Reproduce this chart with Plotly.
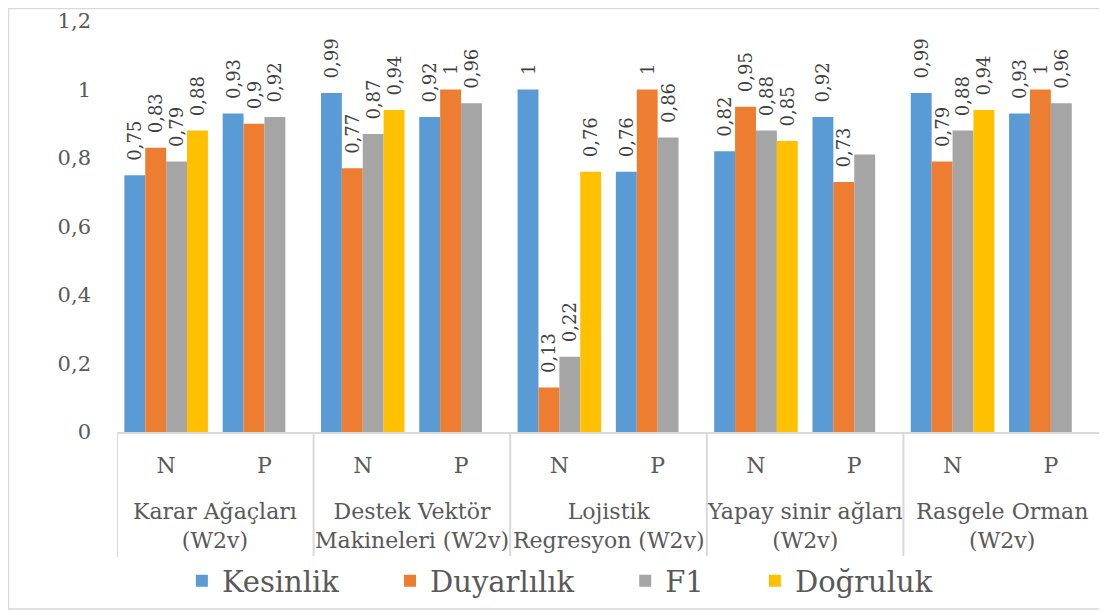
import plotly.graph_objects as go

groups = ["Karar Ağaçları<br>(W2v)", "Destek Vektör<br>Makineleri (W2v)", "Lojistik<br>Regresyon (W2v)",
          "Yapay sinir ağları<br>(W2v)", "Rasgele Orman<br>(W2v)"]
classes = ["N", "P"]

kesinlik = [0.75, 0.93, 0.99, 0.92, 1.00, 0.76, 0.82, 0.92, 0.99, 0.93]
duyarlilik = [0.83, 0.90, 0.77, 1.00, 0.13, 1.00, 0.95, 0.73, 0.79, 1.00]
f1 = [0.79, 0.92, 0.87, 0.96, 0.22, 0.86, 0.88, 0.81, 0.88, 0.96]
dogruluk = [0.88, None, 0.94, None, 0.76, None, 0.85, None, 0.94, None]
f1_labels_shown = [True, True, True, True, True, True, True, False, True, True]

y_ticks = [0, 0.2, 0.4, 0.6, 0.8, 1.0, 1.2]
y_ticktext = ["0", "0,2", "0,4", "0,6", "0,8", "1", "1,2"]

series = [
    ("Kesinlik", kesinlik, "#5b9bd5", 5),
    ("Duyarlılık", duyarlilik, "#ed7d31", 5),
    ("F1", f1, "#a5a5a5", 5),
    ("Doğruluk", dogruluk, "#ffc000", 0),
]

SERIF = "DejaVu Serif"
NB = "\u00a0"
GRID = "#d9d9d9"

# one category per (model, class) pair; the axis shows the class, the model name sits below
cats = [f"{g}|{c}" for g in groups for c in classes]
cat_text = [c for _ in groups for c in classes]
n_cls = len(classes)


def fmt(v):
    if v is None:
        return ""
    s = f"{v:.2f}".rstrip("0").rstrip(".")
    return NB * 2 + s.replace(".", ",")


fig = go.Figure()
for name, vals, col, pad in series:
    texts = [fmt(v) for v in vals]
    if name == "F1":
        texts = [t if show else "" for t, show in zip(texts, f1_labels_shown)]
    fig.add_trace(go.Bar(
        name=name + NB * pad, x=cats, y=vals, marker=dict(color=col, line=dict(width=0)),
        text=texts, textposition="outside", textangle=-90, cliponaxis=False,
        constraintext="none",
        textfont=dict(family=SERIF, size=18, color="#404040"),
    ))

# page body has an 8px margin: shift everything up/left by 8px
PH = 612 - 13 - 188
fig.update_layout(
    width=1107, height=612,
    margin=dict(l=109, r=15, t=13, b=188, autoexpand=False),
    paper_bgcolor="white", plot_bgcolor="white",
    barmode="group", bargap=0.15, bargroupgap=0,
    font=dict(family=SERIF, color="#595959"),
    showlegend=True,
    legend=dict(orientation="h", x=0.066, xanchor="left", y=-149 / PH, yanchor="middle",
                font=dict(family=SERIF, size=29, color="#595959"),
                itemwidth=30, tracegroupgap=0),
)
fig.update_yaxes(range=[0, 1.2], showgrid=False, zeroline=False, showline=False,
                 automargin=False, ticklabeloverflow="allow",
                 tickfont=dict(family=SERIF, size=21, color="#595959"),
                 ticks="", ticklabelstandoff=25, tickvals=y_ticks, ticktext=y_ticktext)
fig.update_xaxes(type="category", range=[-0.5, len(cats) - 0.5],
                 showgrid=False, showline=True, linecolor=GRID, linewidth=2,
                 automargin=False,
                 tickvals=cats, ticktext=cat_text,
                 ticks="outside", ticklen=13, tickcolor="rgba(0,0,0,0)",
                 tickfont=dict(family=SERIF, size=22, color="#595959"))

# model-name labels under each pair and the divider lines between models
for i, g in enumerate(groups):
    fig.add_annotation(x=i * n_cls + (n_cls - 1) / 2, xref="x", y=-65 / PH, yref="paper",
                       xanchor="center", yanchor="top", showarrow=False, text=g,
                       font=dict(family=SERIF, size=22, color="#595959"))
for i in range(len(groups) + 1):
    xpos = i * n_cls - 0.5
    fig.add_shape(type="line", xref="x", yref="paper", x0=xpos, x1=xpos,
                  y0=0, y1=-125 / PH, line=dict(color=GRID, width=2))

fig.add_shape(type="rect", xref="paper", yref="paper",
              x0=-108.5 / 983, x1=1 + 3 / 983, y0=-177 / PH, y1=1 + 12.5 / PH,
              line=dict(color=GRID, width=1.5), fillcolor="rgba(0,0,0,0)")

fig.write_html("out.html")
